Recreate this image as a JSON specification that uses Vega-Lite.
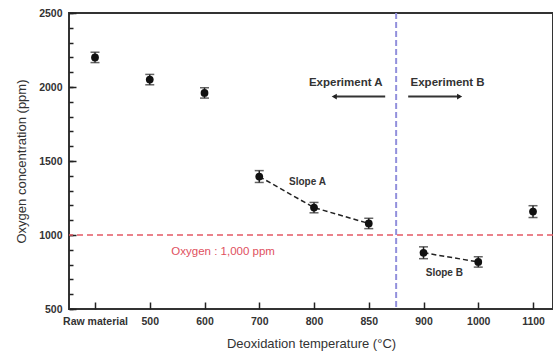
{
  "$schema": "https://vega.github.io/schema/vega-lite/v6.json",
  "width": 484,
  "height": 296,
  "autosize": "none",
  "padding": {"left": 69, "top": 13, "right": 0, "bottom": 49},
  "config": {
    "font": "Liberation Sans",
    "view": {"stroke": "#333", "strokeWidth": 2},
    "axis": {
      "domain": false,
      "tickColor": "#222",
      "tickWidth": 1.5,
      "labelColor": "#333",
      "labelFontSize": 10.5,
      "labelFontWeight": "bold",
      "labelOverlap": false,
      "titleColor": "#333",
      "titleFontSize": 13,
      "titleFontWeight": "normal",
      "grid": false
    }
  },
  "datasets": {
    "pts": [
      {"idx": 0, "temp": "Raw material", "ppm": 2200, "err": 35},
      {"idx": 1, "temp": "500", "ppm": 2050, "err": 35},
      {"idx": 2, "temp": "600", "ppm": 1960, "err": 35},
      {"idx": 3, "temp": "700", "ppm": 1395, "err": 40},
      {"idx": 4, "temp": "800", "ppm": 1185, "err": 35},
      {"idx": 5, "temp": "850", "ppm": 1078, "err": 35},
      {"idx": 6, "temp": "900", "ppm": 880, "err": 40},
      {"idx": 7, "temp": "1000", "ppm": 818, "err": 35},
      {"idx": 8, "temp": "1100", "ppm": 1158, "err": 40}
    ],
    "slopes": [
      {"seg": "A", "idx": 3, "ppm": 1395},
      {"seg": "A", "idx": 4, "ppm": 1185},
      {"seg": "A", "idx": 5, "ppm": 1078},
      {"seg": "B", "idx": 6, "ppm": 880},
      {"seg": "B", "idx": 7, "ppm": 818}
    ],
    "bigLabels": [
      {"label": "Experiment A", "idx": 4.58, "ppm": 2025},
      {"label": "Experiment B", "idx": 6.44, "ppm": 2025}
    ],
    "slopeLabels": [
      {"label": "Slope A", "idx": 3.88, "ppm": 1355},
      {"label": "Slope B", "idx": 6.38, "ppm": 743}
    ],
    "arrows": [
      {"arrow": "A", "from": 5.3, "to": 4.37, "ppm": 1935, "shape": "triangle-left"},
      {"arrow": "B", "from": 5.72, "to": 6.66, "ppm": 1935, "shape": "triangle-right"}
    ]
  },
  "resolve": {"axis": {"y": "independent"}},
  "layer": [
    {
      "layer": [
        {
          "data": {"values": [{"idx": 5.5}]},
          "mark": {"type": "rule", "color": "#9290dc", "strokeWidth": 2, "strokeDash": [6, 3]},
          "encoding": {
            "x": {
              "field": "idx",
              "type": "quantitative",
              "title": "Deoxidation temperature (°C)",
              "scale": {"domain": [-0.475, 8.365], "nice": false, "zero": false},
              "axis": {
                "values": [0, 1, 2, 3, 4, 5, 6, 7, 8],
                "labelExpr": "['Raw material','500','600','700','800','850','900','1000','1100'][datum.value]",
                "offset": -7,
                "tickSize": 7,
                "labelPadding": 7,
                "titlePadding": 11
              }
            }
          }
        },
        {
          "data": {"values": [{"label": "Oxygen : 1,000 ppm", "idx": 2.34, "ppm": 885}]},
          "mark": {"type": "text", "color": "#e0505e", "fontSize": 11.5},
          "encoding": {
            "x": {"field": "idx", "type": "quantitative", "title": "Deoxidation temperature (°C)"},
            "y": {
              "field": "ppm",
              "type": "quantitative",
              "title": "Oxygen concentration (ppm)",
              "scale": {"domain": [500, 2500], "nice": false, "zero": false},
              "axis": {
                "orient": "left",
                "values": [500, 1000, 1500, 2000, 2500],
                "format": "d",
                "offset": -7,
                "tickSize": 7,
                "labelPadding": 7,
                "titlePadding": 10
              }
            },
            "text": {"field": "label"}
          }
        },
        {
          "data": {"name": "slopes"},
          "mark": {"type": "line", "color": "#222", "strokeWidth": 1.5, "strokeDash": [5, 3]},
          "encoding": {
            "x": {"field": "idx", "type": "quantitative", "title": "Deoxidation temperature (°C)"},
            "y": {"field": "ppm", "type": "quantitative", "title": "Oxygen concentration (ppm)"},
            "detail": {"field": "seg"}
          }
        },
        {
          "data": {"name": "pts"},
          "mark": {"type": "errorbar", "ticks": {"size": 9, "color": "#222"}, "color": "#222", "thickness": 1.5},
          "encoding": {
            "x": {"field": "idx", "type": "quantitative", "title": "Deoxidation temperature (°C)"},
            "y": {"field": "ppm", "type": "quantitative", "title": "Oxygen concentration (ppm)"},
            "yError": {"field": "err"}
          }
        },
        {
          "data": {"name": "pts"},
          "mark": {"type": "point", "filled": true, "color": "#111", "size": 60, "opacity": 1},
          "encoding": {
            "x": {"field": "idx", "type": "quantitative", "title": "Deoxidation temperature (°C)"},
            "y": {"field": "ppm", "type": "quantitative", "title": "Oxygen concentration (ppm)"}
          }
        },
        {
          "data": {"name": "bigLabels"},
          "mark": {"type": "text", "color": "#333", "fontSize": 11.5, "fontWeight": "bold"},
          "encoding": {
            "x": {"field": "idx", "type": "quantitative", "title": "Deoxidation temperature (°C)"},
            "y": {"field": "ppm", "type": "quantitative", "title": "Oxygen concentration (ppm)"},
            "text": {"field": "label"}
          }
        },
        {
          "data": {"name": "slopeLabels"},
          "mark": {"type": "text", "color": "#333", "fontSize": 10, "fontWeight": "bold"},
          "encoding": {
            "x": {"field": "idx", "type": "quantitative", "title": "Deoxidation temperature (°C)"},
            "y": {"field": "ppm", "type": "quantitative", "title": "Oxygen concentration (ppm)"},
            "text": {"field": "label"}
          }
        },
        {
          "data": {"name": "arrows"},
          "mark": {"type": "rule", "color": "#333", "strokeWidth": 2},
          "encoding": {
            "x": {"field": "from", "type": "quantitative", "title": "Deoxidation temperature (°C)"},
            "x2": {"field": "to"},
            "y": {"field": "ppm", "type": "quantitative", "title": "Oxygen concentration (ppm)"}
          }
        },
        {
          "data": {"name": "arrows"},
          "mark": {"type": "point", "filled": true, "color": "#222", "size": 35, "opacity": 1},
          "encoding": {
            "x": {"field": "to", "type": "quantitative", "title": "Deoxidation temperature (°C)"},
            "y": {"field": "ppm", "type": "quantitative", "title": "Oxygen concentration (ppm)"},
            "shape": {"field": "shape", "type": "nominal", "scale": null, "legend": null}
          }
        }
      ]
    },
    {
      "data": {"values": [{"ppm": 1000}]},
      "mark": {"type": "rule", "color": "#e45a66", "strokeWidth": 1.5, "strokeDash": [6, 4]},
      "encoding": {
        "y": {
          "field": "ppm",
          "type": "quantitative",
          "axis": {
            "orient": "left",
            "values": [500, 600, 700, 800, 900, 1000, 1100, 1200, 1300, 1400, 1500, 1600, 1700, 1800, 1900, 2000, 2100, 2200, 2300, 2400, 2500],
            "labels": false,
            "title": null,
            "offset": -4,
            "tickSize": 4
          }
        }
      }
    }
  ]
}
